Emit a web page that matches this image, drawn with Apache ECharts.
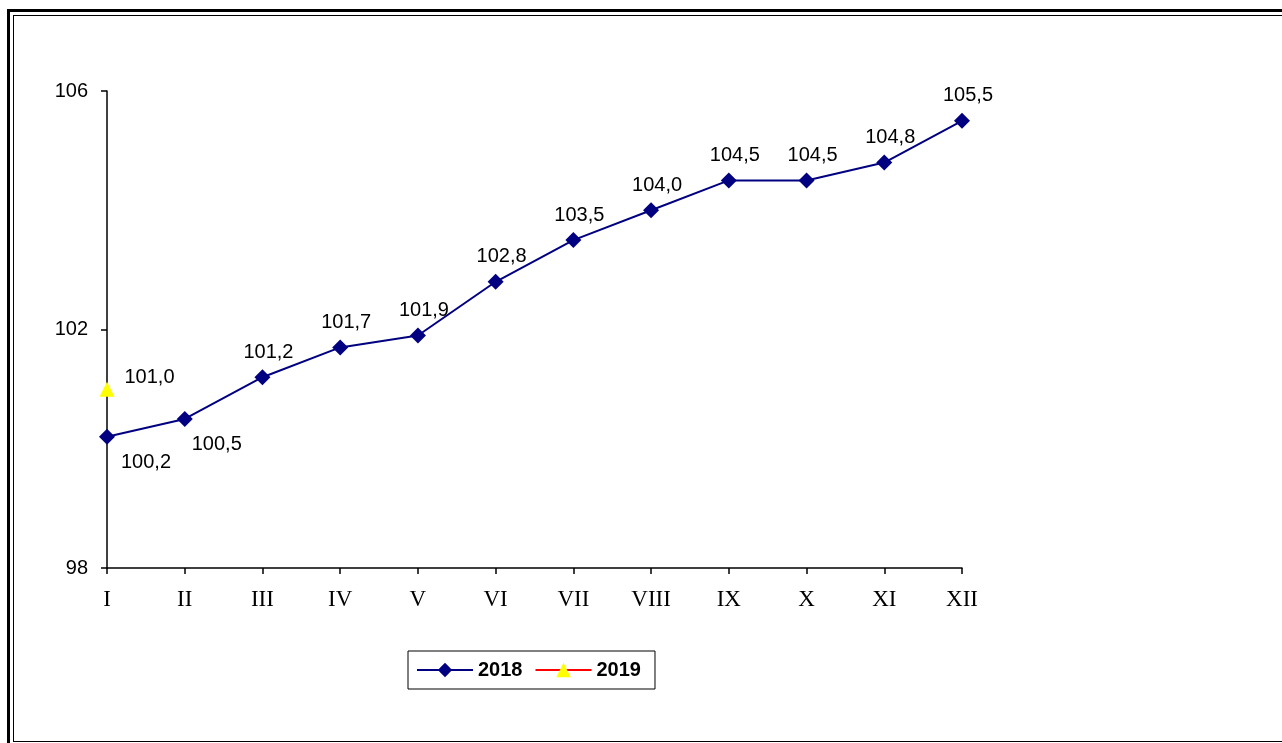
<!DOCTYPE html>
<html>
<head>
<meta charset="utf-8">
<script src="https://cdn.jsdelivr.net/npm/echarts@6/dist/echarts.min.js"></script>
<style>
  html, body { margin: 0; padding: 0; background: #fff; }
  #frame1 { position: absolute; left: 7px; top: 9px; width: 1300px; height: 731px; border: 3px solid #000; }
  #frame2 { position: absolute; left: 13px; top: 15px; width: 1300px; height: 725px; border: 1px solid #000; }
  #chart { position: absolute; left: 0; top: 0; width: 1282px; height: 743px; }
</style>
</head>
<body>
<div id="frame1"></div>
<div id="frame2"></div>
<div id="chart"></div>
<script>
// месяцы
var months = ['I', 'II', 'III', 'IV', 'V', 'VI', 'VII', 'VIII', 'IX', 'X', 'XI', 'XII'];
var data2018 = [100.2, 100.5, 101.2, 101.7, 101.9, 102.8, 103.5, 104.0, 104.5, 104.5, 104.8, 105.5];
var data2019 = [101.0];
var yTicks = [98, 102, 106];

function fmt(v) { return v.toFixed(1).replace('.', ','); }

// первые две точки подписаны снизу справа
var belowOffsets = [[39, 0], [32, 0]];
var pts2018 = data2018.map(function (v, i) {
    if (i < 2) {
        return {value: v, label: {position: 'bottom', distance: 8, offset: belowOffsets[i]}};
    }
    return v;
});

var labelFont = {fontFamily: 'Liberation Sans', fontSize: 20, color: '#000'};

var chart = echarts.init(document.getElementById('chart'));
chart.setOption({
    animation: false,
    grid: {left: 107, top: 91, right: 320, bottom: 175},
    legend: {
        left: 408, top: 651,
        padding: [9, 14, 9, 8],
        borderColor: '#000', borderWidth: 1,
        itemWidth: 56, itemHeight: 18, itemGap: 12,
        textStyle: {fontFamily: 'Liberation Sans', fontWeight: 'bold', fontSize: 20, color: '#000'},
        data: ['2018', '2019']
    },
    xAxis: {
        type: 'category',
        data: months,
        boundaryGap: false,
        axisLine: {lineStyle: {color: '#000', width: 1.5}},
        axisTick: {alignWithLabel: true, length: 6, lineStyle: {color: '#000', width: 1.5}},
        axisLabel: {fontFamily: 'Liberation Serif', fontSize: 23, color: '#000', margin: 20}
    },
    yAxis: {
        type: 'value',
        min: yTicks[0], max: yTicks[yTicks.length - 1], interval: 4,
        axisLine: {show: true, lineStyle: {color: '#000', width: 1.5}},
        axisTick: {show: true, length: 6, lineStyle: {color: '#000', width: 1.5}},
        splitLine: {show: false},
        axisLabel: {fontFamily: 'Liberation Sans', fontSize: 20, color: '#000', margin: 19}
    },
    series: [{
        name: '2018',
        type: 'line',
        data: pts2018,
        symbol: 'diamond',
        symbolSize: 16,
        lineStyle: {color: '#000080', width: 2},
        itemStyle: {color: '#000080'},
        label: Object.assign({
            show: true, position: 'top', distance: 7, offset: [6, 0],
            formatter: function (p) { return fmt(p.value); }
        }, labelFont)
    }, {
        name: '2019',
        type: 'line',
        data: data2019,
        symbol: 'triangle',
        symbolSize: 15,
        lineStyle: {color: '#ff0000', width: 2},
        itemStyle: {color: '#ffff00'},
        label: Object.assign({
            show: true, position: 'right', distance: 10, offset: [0, -12],
            formatter: function (p) { return fmt(p.value); }
        }, labelFont)
    }]
});
</script>
</body>
</html>
